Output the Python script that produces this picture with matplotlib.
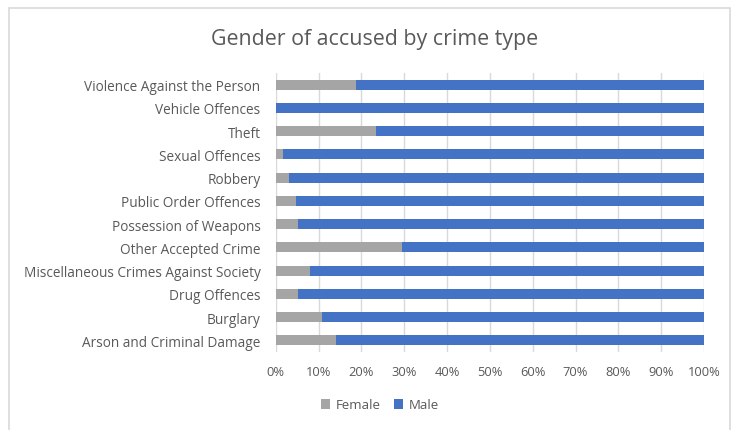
import matplotlib
matplotlib.use("Agg")
import matplotlib.pyplot as plt
from matplotlib.patches import Rectangle
from matplotlib.ticker import PercentFormatter

crime_types = [
    "Violence Against the Person",
    "Vehicle Offences",
    "Theft",
    "Sexual Offences",
    "Robbery",
    "Public Order Offences",
    "Possession of Weapons",
    "Other Accepted Crime",
    "Miscellaneous Crimes Against Society",
    "Drug Offences",
    "Burglary",
    "Arson and Criminal Damage",
]
female_pct = [18.8, 0.0, 23.4, 1.8, 3.1, 4.7, 5.2, 29.6, 7.9, 5.2, 10.7, 14.1]
male_pct = [100 - f for f in female_pct]

grey = "#A5A5A5"
blue = "#4472C4"
text_col = "#595959"

plt.rcParams["font.family"] = ["Open Sans", "DejaVu Sans"]

fig = plt.figure(figsize=(7.36, 4.31), dpi=100)
fig.patches.append(Rectangle((9 / 736, -0.1), 721 / 736, 1.1 - 9 / 431,
                             transform=fig.transFigure, fill=False,
                             edgecolor="#D9D9D9", linewidth=1.2))

ax = fig.add_axes([275.7 / 736, 1 - 353 / 431, 428.3 / 736, 279 / 431])

ypos = list(range(len(crime_types)))
ax.barh(ypos, female_pct, height=0.43, color=grey, label="Female", zorder=3)
ax.barh(ypos, male_pct, left=female_pct, height=0.43, color=blue,
        label="Male", zorder=3)

ax.set_xlim(0, 100)
ax.set_ylim(len(crime_types) - 0.5, -0.5)
ax.set_xticks(range(0, 101, 10))
ax.xaxis.set_major_formatter(PercentFormatter(decimals=0))
ax.set_yticks(ypos)
ax.set_yticklabels(crime_types, fontsize=9.8)
ax.tick_params(axis="both", length=0, colors=text_col)
ax.tick_params(axis="x", labelsize=9.3, pad=9)
ax.tick_params(axis="y", pad=11)
ax.grid(axis="x", color="#D9D9D9", linewidth=1, zorder=0)
for s in ax.spines.values():
    s.set_visible(False)

fig.text(375 / 736, 1 - 40 / 431, "Gender of accused by crime type",
         ha="center", va="center", fontsize=15.4, color=text_col)

ax.legend(loc="center", bbox_to_anchor=(380 / 736, 1 - 406 / 431),
          bbox_transform=fig.transFigure, ncol=2, frameon=False,
          fontsize=9.5, labelcolor=text_col, handlelength=0.7,
          handleheight=0.7, handletextpad=0.4, columnspacing=1.0)

fig.savefig("out.png", dpi=100)
